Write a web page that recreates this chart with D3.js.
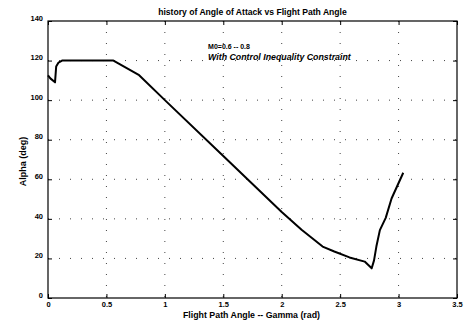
<!DOCTYPE html>
<html>
<head>
<meta charset="utf-8">
<script src="https://cdn.jsdelivr.net/npm/d3@7"></script>
<style>
  body { margin: 0; background: #fff; }
  svg text { font-family: "Liberation Sans", Arial, sans-serif; fill: #000; }
</style>
</head>
<body>
<div id="chart"></div>
<script>
// flight path angle (rad) and angle of attack (deg)
const gamma = [0, 0.02, 0.06, 0.07, 0.09, 0.12, 0.3, 0.56, 0.78, 1.0, 1.5, 2.0, 2.17, 2.35, 2.45, 2.58, 2.71, 2.77, 2.79, 2.81, 2.84, 2.89, 2.94, 3.04];
const alpha = [112.5, 111, 109, 117, 119, 120, 120, 120, 112.6, 100, 71.8, 43.5, 34.5, 26, 23.5, 20.5, 18.4, 15, 19, 26, 34.3, 40.5, 50.3, 63.3];

const xTicks = [0, 0.5, 1, 1.5, 2, 2.5, 3, 3.5];
const yTicks = [0, 20, 40, 60, 80, 100, 120, 140];

const titleText = "history of Angle of Attack vs Flight Path Angle";
const xLabel = "Flight Path Angle -- Gamma (rad)";
const yLabel = "Alpha (deg)";
const notes = ["M0=0.6 -- 0.8", "With Control Inequality Constraint"];

let margin = {top: 21, right: 13, bottom: 24, left: 48},
    width = 470 - margin.left - margin.right,
    height = 322 - margin.top - margin.bottom;

let x = d3.scaleLinear().domain([0, 3.5]).range([0, width]);
let y = d3.scaleLinear().domain([0, 140]).range([height, 0]);

let svg = d3.select("#chart")
    .append("svg")
        .attr("width", 470)
        .attr("height", 322)
    .append("g")
        .attr("transform", "translate(" + margin.left + "," + margin.top + ")");

// dotted grid
svg.selectAll(".vgrid")
    .data(xTicks.slice(1, -1))
    .enter().append("line")
    .attr("x1", d => x(d)).attr("x2", d => x(d))
    .attr("y1", 0).attr("y2", height)
    .attr("stroke", "#444").attr("stroke-width", 1)
    .attr("stroke-dasharray", "1,10");

svg.selectAll(".hgrid")
    .data(yTicks.slice(1, -1))
    .enter().append("line")
    .attr("x1", 0).attr("x2", width)
    .attr("y1", d => y(d)).attr("y2", d => y(d))
    .attr("stroke", "#444").attr("stroke-width", 1)
    .attr("stroke-dasharray", "1,10");

// axes, ticks inward on all four sides
let tickStyle = g => {
    g.select(".domain").remove();
    g.selectAll("text").style("font-size", "7.5px").style("font-weight", "bold");
    g.selectAll("line").attr("stroke", "#000");
};

svg.append("g")
    .attr("transform", "translate(0," + height + ")")
    .call(d3.axisBottom(x).tickValues(xTicks).tickFormat(d3.format("")).tickSizeInner(-4).tickPadding(4))
    .call(tickStyle);

svg.append("g")
    .call(d3.axisTop(x).tickValues(xTicks).tickFormat("").tickSizeInner(-4))
    .call(tickStyle);

svg.append("g")
    .call(d3.axisLeft(y).tickValues(yTicks).tickSizeInner(-4).tickPadding(5))
    .call(tickStyle)
    .selectAll("text").attr("dy", "-0.1em");

svg.append("g")
    .attr("transform", "translate(" + width + ",0)")
    .call(d3.axisRight(y).tickValues(yTicks).tickFormat("").tickSizeInner(-4))
    .call(tickStyle);

svg.append("rect")
    .attr("width", width).attr("height", height)
    .attr("fill", "none").attr("stroke", "#000").attr("stroke-width", 1.2);

// curve
let line = d3.line()
    .x((d, i) => x(gamma[i]))
    .y(d => y(d));

svg.append("path")
    .datum(alpha)
    .attr("d", line)
    .attr("fill", "none")
    .attr("stroke", "#000")
    .attr("stroke-width", 2)
    .attr("stroke-linejoin", "round");

// labels
svg.append("text")
    .attr("x", width / 2).attr("y", -6)
    .attr("text-anchor", "middle")
    .style("font-size", "8.6px").style("font-weight", "bold")
    .text(titleText);

svg.append("text")
    .attr("x", width / 2 - 1).attr("y", height + 20)
    .attr("text-anchor", "middle")
    .style("font-size", "8.8px").style("font-weight", "bold")
    .text(xLabel);

svg.append("text")
    .attr("transform", "translate(-22," + (height / 2 + 2) + ") rotate(-90)")
    .attr("text-anchor", "middle")
    .style("font-size", "9px").style("font-weight", "bold")
    .text(yLabel);

svg.append("text")
    .attr("x", x(1.37)).attr("y", y(126))
    .style("font-size", "7px").style("font-weight", "bold")
    .text(notes[0]);

svg.append("text")
    .attr("x", x(1.37)).attr("y", y(120.5))
    .style("font-size", "8.8px").style("font-weight", "bold").style("font-style", "italic")
    .text(notes[1]);
</script>
</body>
</html>
